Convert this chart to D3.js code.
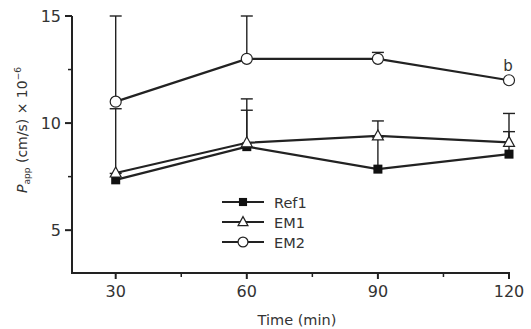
<!DOCTYPE html>
<html>
<head>
<meta charset="utf-8">
<script src="https://cdn.jsdelivr.net/npm/d3@7"></script>
<style>
  body { margin: 0; background: #fff; }
  text { font-family: "DejaVu Sans", sans-serif; fill: #333; }
</style>
</head>
<body>
<div id="chart"></div>
<script>
// time points (min)
const times = [30, 60, 90, 120];
const seriesNames = ["Ref1", "EM1", "EM2"];
// Papp values (x10^-6 cm/s)
const ref1Values = [7.35, 8.9, 7.85, 8.55];
const em1Values = [7.67, 9.08, 9.4, 9.1];
const em2Values = [11.0, 13.0, 13.0, 12.0];
// upper error bars (SD)
const ref1Errors = [0.3, 1.7, 1.5, 1.05];
const em1Errors = [3.0, 2.05, 0.7, 1.35];
const em2Errors = [4.0, 2.0, 0.3, 0.0];
const xTicks = [30, 60, 90, 120];
const xMinorTicks = [45, 75, 105];
const yTicks = [5, 10, 15];
const yMinorTicks = [7.5, 12.5];

const width = 531, height = 329;

const svg = d3.select("#chart").append("svg")
	.attr("width", width)
	.attr("height", height);

const x = d3.scaleLinear().domain([20, 120]).range([72, 509]);
const y = d3.scaleLinear().domain([3, 15]).range([273, 16]);

// axes
const xAxis = svg.append("g").attr("transform", `translate(0,${y(3)})`);
xAxis.append("line")
	.attr("x1", x(20)).attr("x2", x(120) + 1)
	.attr("stroke", "#222").attr("stroke-width", 2);
xAxis.selectAll("line.major").data(xTicks).enter().append("line")
	.attr("class", "major")
	.attr("x1", d => x(d)).attr("x2", d => x(d))
	.attr("y1", 0).attr("y2", 6)
	.attr("stroke", "#222").attr("stroke-width", 2);
xAxis.selectAll("line.minor").data(xMinorTicks).enter().append("line")
	.attr("class", "minor")
	.attr("x1", d => x(d)).attr("x2", d => x(d))
	.attr("y1", 0).attr("y2", 4)
	.attr("stroke", "#222").attr("stroke-width", 1.5);
xAxis.selectAll("text").data(xTicks).enter().append("text")
	.attr("x", d => x(d)).attr("y", 24)
	.attr("text-anchor", "middle")
	.style("font-size", "16px")
	.text(d => d);

const yAxis = svg.append("g").attr("transform", `translate(${x(20)},0)`);
yAxis.append("line")
	.attr("y1", y(15)).attr("y2", y(3) + 1)
	.attr("stroke", "#222").attr("stroke-width", 2);
yAxis.selectAll("line.major").data(yTicks).enter().append("line")
	.attr("class", "major")
	.attr("y1", d => y(d)).attr("y2", d => y(d))
	.attr("x1", 0).attr("x2", -7)
	.attr("stroke", "#222").attr("stroke-width", 2);
yAxis.selectAll("line.minor").data(yMinorTicks).enter().append("line")
	.attr("class", "minor")
	.attr("y1", d => y(d)).attr("y2", d => y(d))
	.attr("x1", 0).attr("x2", -4)
	.attr("stroke", "#222").attr("stroke-width", 1.5);
yAxis.selectAll("text").data(yTicks).enter().append("text")
	.attr("x", -11).attr("y", d => y(d) + 6)
	.attr("text-anchor", "end")
	.style("font-size", "16px")
	.text(d => d);

// axis titles
svg.append("text")
	.attr("x", 297).attr("y", 325)
	.attr("text-anchor", "middle")
	.style("font-size", "14.5px")
	.text("Time (min)");

const yTitle = svg.append("text")
	.attr("transform", `translate(27,130) rotate(-90)`)
	.attr("text-anchor", "middle")
	.style("font-size", "14px");
yTitle.append("tspan").style("font-style", "italic").text("P");
yTitle.append("tspan").attr("dy", 3).style("font-size", "9px").text("app");
yTitle.append("tspan").attr("dy", -3).text(" (cm/s) \u00d7 10");
yTitle.append("tspan").attr("dy", -6).style("font-size", "9px").text("\u22126");

// series
const series = [
	{ name: "Ref1", values: ref1Values, errors: ref1Errors, marker: "square" },
	{ name: "EM1", values: em1Values, errors: em1Errors, marker: "triangle" },
	{ name: "EM2", values: em2Values, errors: em2Errors, marker: "circle" }
];

const line = d3.line().x(d => x(d.t)).y(d => y(d.v));

// error bars first
series.forEach(s => {
	const pts = times.map((t, i) => ({ t: t, v: s.values[i], e: s.errors[i] }));
	const g = svg.append("g");
	pts.filter(p => p.e > 0).forEach(p => {
		g.append("line")
			.attr("x1", x(p.t)).attr("x2", x(p.t))
			.attr("y1", y(p.v)).attr("y2", y(p.v + p.e))
			.attr("stroke", "#222").attr("stroke-width", 1.4);
		g.append("line")
			.attr("x1", x(p.t) - 6).attr("x2", x(p.t) + 6)
			.attr("y1", y(p.v + p.e)).attr("y2", y(p.v + p.e))
			.attr("stroke", "#222").attr("stroke-width", 1.4);
	});
});

function drawMarker(g, type, cx, cy, k) {
	k = k || 1;
	if (type === "square") {
		g.append("rect").attr("x", cx - 4.5 * k).attr("y", cy - 4.5 * k)
			.attr("width", 9 * k).attr("height", 9 * k).attr("fill", "#111");
	} else if (type === "triangle") {
		g.append("path")
			.attr("d", `M${cx},${cy - 6 * k}L${cx + 5.5 * k},${cy + 4 * k}L${cx - 5.5 * k},${cy + 4 * k}Z`)
			.attr("fill", "#fff").attr("stroke", "#222").attr("stroke-width", 1.2);
	} else {
		g.append("circle").attr("cx", cx).attr("cy", cy).attr("r", 5.5 * k)
			.attr("fill", "#fff").attr("stroke", "#222").attr("stroke-width", 1.2);
	}
}

series.forEach(s => {
	const pts = times.map((t, i) => ({ t: t, v: s.values[i] }));
	svg.append("path").datum(pts)
		.attr("d", line)
		.attr("fill", "none").attr("stroke", "#222").attr("stroke-width", 2.2);
	const g = svg.append("g");
	pts.forEach(p => drawMarker(g, s.marker, x(p.t), y(p.v)));
});

// significance label
svg.append("text")
	.attr("x", x(120) - 1).attr("y", y(12) - 9)
	.attr("text-anchor", "middle")
	.style("font-size", "15px")
	.text("b");

// legend
const legend = svg.append("g").attr("transform", "translate(222,202)");
series.forEach((s, i) => {
	const row = legend.append("g").attr("transform", `translate(0,${i * 20})`);
	row.append("line").attr("x1", 0).attr("x2", 42)
		.attr("stroke", "#222").attr("stroke-width", 2.2);
	drawMarker(row, s.marker, 21, 0, 0.9);
	row.append("text").attr("x", 52).attr("y", 5.5)
		.style("font-size", "14.5px")
		.text(seriesNames[i]);
});
</script>
</body>
</html>
